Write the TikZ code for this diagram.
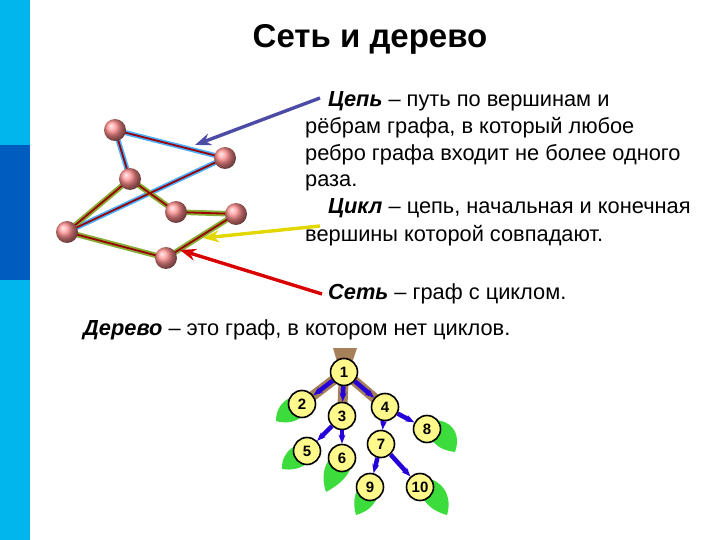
\documentclass[tikz,border=0pt]{standalone}
\usepackage{fontspec}
\setmainfont{Liberation Sans}
\usetikzlibrary{arrows.meta}
\definecolor{barc}{RGB}{0,182,236}
\definecolor{bard}{RGB}{0,92,190}
\definecolor{leafg}{RGB}{60,220,60}
\begin{document}
\begin{tikzpicture}[x=1pt,y=-1pt,
  vert/.style={circle,minimum size=22pt,inner sep=0,shade,ball color=red!45!white},
  tn/.style={circle,draw=black,line width=1.6pt,fill=yellow!45,minimum size=27pt,inner sep=0,font=\bfseries\fontsize{15}{15}\selectfont},
  edg/.style={draw=red!60!black,line width=1.8pt},
  chain/.style={draw=blue!45!cyan!70!white,line width=5pt},
  cyc/.style={draw=olive!60!green!80!white,line width=5.5pt},
  txt/.style={anchor=base west,inner sep=0,font=\fontsize{21.8}{24}\selectfont},
  tarr/.style={-{Stealth[length=16pt,width=12pt]},draw=blue!50!black!70,line width=3.4pt},
  leaf/.style={fill=leafg,draw=none},
  br/.style={draw=blue!70!violet,line width=4.5pt,-{Stealth[length=9pt]}}]
\useasboundingbox (0,0) rectangle (720,540);
\fill[barc] (0,0) rectangle (30,540);
\fill[bard] (0,145) rectangle (30,280);
\node[font=\bfseries\fontsize{33}{36}\selectfont,anchor=base] (title) at (370,48) {Сеть и дерево};
% graph
\coordinate (A) at (115,130); \coordinate (B) at (225,158); \coordinate (C) at (130,179);
\coordinate (D) at (176,212); \coordinate (E) at (236,214); \coordinate (F) at (67,232); \coordinate (G) at (166,258);
\draw[chain] (A)--(B)--(F) (A)--(C);
\draw[cyc] (C)--(F)--(G)--(E)--(D)--(C);
\draw[edg] (A)--(B)--(F) (A)--(C)--(F)--(G)--(E)--(D)--(C);
\foreach \p in {A,B,C,D,E,F,G} \node[vert] (n\p) at (\p) {};
% texts
\node[txt] (t1) at (328,107) {\textbf{\textit{Цепь}} – путь по вершинам и};
\node[txt] (t2) at (305,134) {рёбрам графа, в который любое};
\node[txt] (t3) at (305,161) {ребро графа входит не более одного};
\node[txt] (t4) at (305,187) {раза.};
\node[txt] (t5) at (328,214) {\textbf{\textit{Цикл}} – цепь, начальная и конечная};
\node[txt] (t6) at (305,241) {вершины которой совпадают.};
\node[txt] (t7) at (328,299) {\textbf{\textit{Сеть}} – граф с циклом.};
\node[txt] (t8) at (83,335) {\textbf{\textit{Дерево}} – это граф, в котором нет циклов.};
\coordinate (a1) at (320,98); \coordinate (a1e) at (195,145);
\coordinate (a2) at (320,226); \coordinate (a2e) at (203,238);
\coordinate (a3) at (322,294); \coordinate (a3e) at (180,250);
\draw[tarr] (a1)--(a1e);
\draw[tarr,draw=yellow!75!olive] (a2)--(a2e);
\draw[tarr,draw=red!85!black] (a3)--(a3e);
% tree
\fill[brown!75!black!80] (333,348)--(357,348)--(349,372)--(340,372)--cycle;
\coordinate (p1) at (344,372); \coordinate (p2) at (302,404); \coordinate (p3) at (342,416);
\coordinate (p4) at (385,407); \coordinate (p5) at (307,451); \coordinate (p6) at (342,458);
\coordinate (p7) at (381,444); \coordinate (p8) at (427,429); \coordinate (p9) at (370,487); \coordinate (p10) at (420,487);
\draw[brown!75!black!80,line width=10pt] (p1)--(p2) (p1)--(p3) (p1)--(p4);
% leaves
\fill[leaf] (312,396) .. controls (292,392) and (276,402) .. (276,421) .. controls (292,426) and (310,418) .. (312,396);
\fill[leaf] (318,442) .. controls (296,440) and (281,452) .. (282,469) .. controls (300,472) and (316,462) .. (318,442);
\fill[leaf] (352,448) .. controls (330,450) and (318,468) .. (326,492) .. controls (344,482) and (356,470) .. (352,448);
\fill[leaf] (428,420) .. controls (450,418) and (462,432) .. (455,452) .. controls (438,450) and (425,440) .. (428,420);
\fill[leaf] (378,478) .. controls (360,478) and (350,494) .. (356,515) .. controls (374,510) and (382,496) .. (378,478);
\fill[leaf] (422,478) .. controls (442,478) and (453,496) .. (447,515) .. controls (428,510) and (416,496) .. (422,478);
\foreach \i in {1,...,10} \node[tn] (m\i) at (p\i) {\i};
\draw[br] (m1)--(m2); \draw[br] (m1)--(m3); \draw[br] (m1)--(m4);
\draw[br] (m3)--(m5); \draw[br] (m3)--(m6); \draw[br] (m4)--(m7);
\draw[br] (m4)--(m8); \draw[br] (m7)--(m9); \draw[br] (m7)--(m10);
\end{tikzpicture}
\end{document}
